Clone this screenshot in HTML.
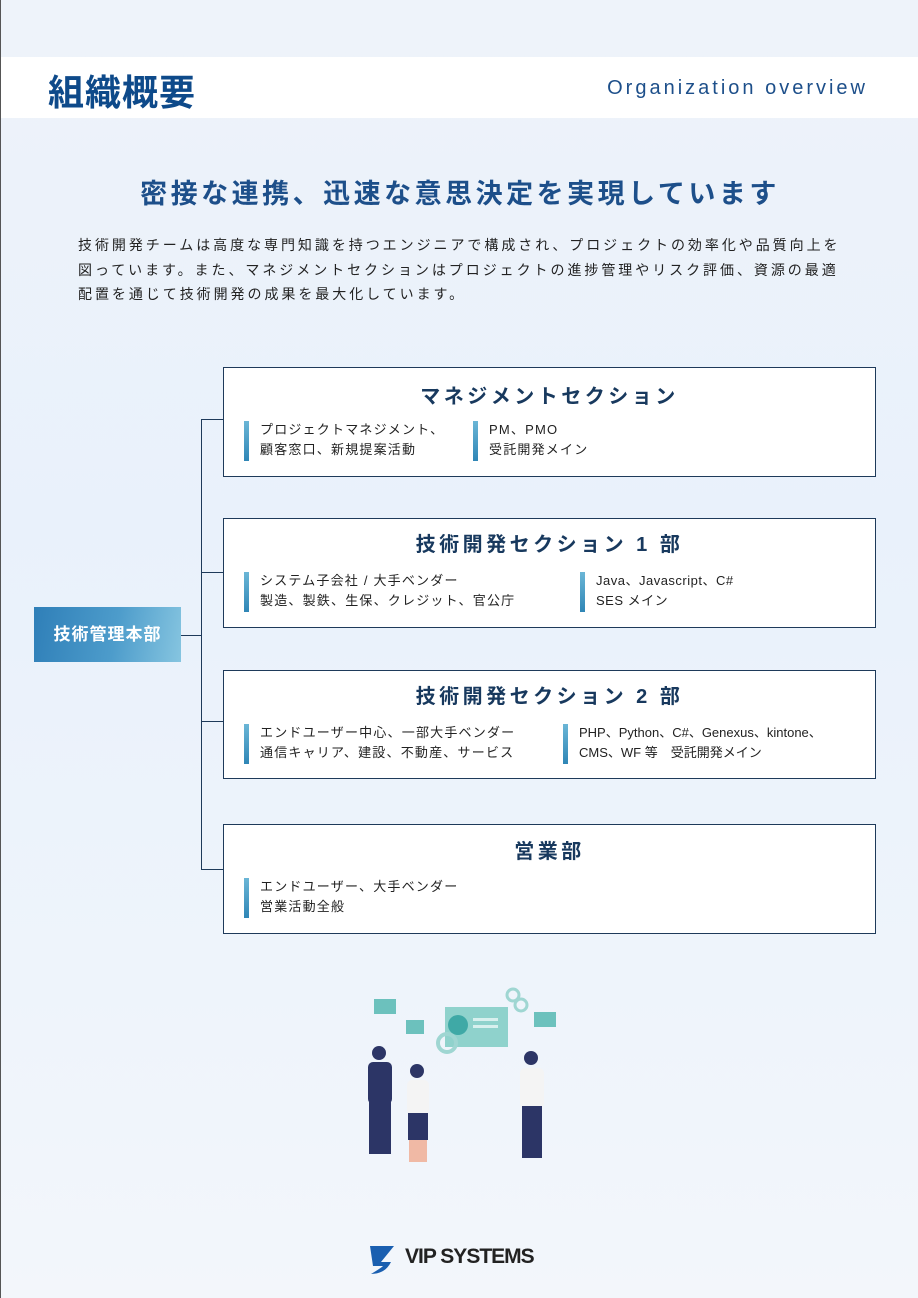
<!DOCTYPE html>
<html><head><meta charset="utf-8"><style>
*{margin:0;padding:0;box-sizing:border-box}
body{width:918px;height:1298px;position:relative;overflow:hidden;font-family:"Liberation Sans","Noto Sans CJK JP",sans-serif;background:linear-gradient(180deg,#eef3fa 0%,#e9f1fb 40%,#eef4fb 75%,#f3f6fb 100%);border-left:1px solid #555}
.a{position:absolute;white-space:nowrap}
.band{left:0;top:57px;width:918px;height:61px;background:#fff}
.box{position:absolute;left:222px;width:653px;background:#fff;border:1px solid #1e3a5a}
.t{position:absolute;left:0;width:100%;text-align:center;font-size:20px;font-weight:bold;color:#18395e;letter-spacing:3.5px}
.it{position:absolute;font-size:13px;line-height:20px;color:#222;padding-left:16px;letter-spacing:1.2px}
.it:before{content:"";position:absolute;left:0;top:1px;width:5px;height:40px;background:linear-gradient(180deg,#6bb6d6,#2f86b6)}
.h{background:#1e3a5a;position:absolute}
</style></head><body>
<div class="a band"></div>
<div class="a" style="left:47px;top:64px;font-size:36px;font-weight:bold;color:#0e4a8a;letter-spacing:1px">組織概要</div>
<div class="a" style="right:50px;top:77px;font-size:20px;color:#1d4f8a;letter-spacing:3px">Organization overview</div>
<div class="a" style="left:0;width:918px;text-align:center;top:172px;font-size:27px;font-weight:bold;color:#1d4f8a;letter-spacing:3.5px">密接な連携、迅速な意思決定を実現しています</div>
<div class="a" style="left:77px;top:233px;font-size:14px;line-height:24.5px;color:#222;letter-spacing:2.95px">技術開発チームは高度な専門知識を持つエンジニアで構成され、プロジェクトの効率化や品質向上を<br>図っています。また、マネジメントセクションはプロジェクトの進捗管理やリスク評価、資源の最適<br>配置を通じて技術開発の成果を最大化しています。</div>

<div class="h" style="left:200px;top:419px;width:1px;height:451px"></div>
<div class="h" style="left:200px;top:419px;width:22px;height:1px"></div>
<div class="h" style="left:200px;top:572px;width:22px;height:1px"></div>
<div class="h" style="left:200px;top:721px;width:22px;height:1px"></div>
<div class="h" style="left:200px;top:869px;width:22px;height:1px"></div>
<div class="h" style="left:180px;top:635px;width:20px;height:1px"></div>
<div class="a" style="left:33px;top:607px;width:147px;height:55px;background:linear-gradient(100deg,#2f7fb8 0%,#4d9ccb 55%,#86c5e0 100%);color:#fff;font-size:17px;font-weight:bold;text-align:center;line-height:55px;letter-spacing:1px">技術管理本部</div>

<div class="box" style="top:367px;height:110px">
<div class="t" style="top:12px">マネジメントセクション</div>
<div class="it" style="left:20px;top:52px">プロジェクトマネジメント、<br>顧客窓口、新規提案活動</div>
<div class="it" style="left:249px;top:52px">PM、PMO<br>受託開発メイン</div>
</div>
<div class="box" style="top:518px;height:110px">
<div class="t" style="top:9px">技術開発セクション 1 部</div>
<div class="it" style="left:20px;top:52px">システム子会社 / 大手ベンダー<br>製造、製鉄、生保、クレジット、官公庁</div>
<div class="it" style="left:356px;top:52px;letter-spacing:0.5px">Java、Javascript、C#<br>SES メイン</div>
</div>
<div class="box" style="top:670px;height:109px">
<div class="t" style="top:9px">技術開発セクション 2 部</div>
<div class="it" style="left:20px;top:52px">エンドユーザー中心、一部大手ベンダー<br>通信キャリア、建設、不動産、サービス</div>
<div class="it" style="left:339px;top:52px;letter-spacing:0">PHP、Python、C#、Genexus、kintone、<br>CMS、WF 等　受託開発メイン</div>
</div>
<div class="box" style="top:824px;height:110px">
<div class="t" style="top:10px">営業部</div>
<div class="it" style="left:20px;top:52px">エンドユーザー、大手ベンダー<br>営業活動全般</div>
</div>

<svg class="a" style="left:340px;top:980px" width="240" height="200" viewBox="0 0 240 200">
<rect x="33" y="19" width="22" height="15" fill="#6cc1bd"/><rect x="65" y="40" width="18" height="14" fill="#6cc1bd"/>
<rect x="193" y="32" width="22" height="15" fill="#6cc1bd"/>
<rect x="104" y="27" width="63" height="40" fill="#8fd2cc"/><circle cx="117" cy="45" r="10" fill="#3fa9a6"/>
<rect x="132" y="38" width="25" height="3" fill="#d8f0ee"/><rect x="132" y="45" width="25" height="3" fill="#d8f0ee"/>
<circle cx="106" cy="63" r="9" fill="none" stroke="#9fd6d2" stroke-width="4"/><circle cx="172" cy="15" r="6" fill="none" stroke="#9fd6d2" stroke-width="3"/><circle cx="180" cy="25" r="6" fill="none" stroke="#9fd6d2" stroke-width="3"/>
<circle cx="38" cy="73" r="7" fill="#2c3566"/><rect x="27" y="82" width="24" height="42" rx="5" fill="#2c3566"/><rect x="28" y="122" width="22" height="52" fill="#2c3566"/>
<circle cx="76" cy="91" r="7" fill="#2c3566"/><rect x="66" y="100" width="22" height="35" rx="5" fill="#f4f4f4"/><rect x="67" y="133" width="20" height="27" fill="#2c3566"/><rect x="68" y="160" width="18" height="22" fill="#f0b9a5"/>
<circle cx="190" cy="78" r="7" fill="#2c3566"/><rect x="179" y="88" width="24" height="40" rx="5" fill="#f4f4f4"/><rect x="181" y="126" width="20" height="52" fill="#2c3566"/>
</svg>
<svg class="a" style="left:366px;top:1242px" width="30" height="34" viewBox="0 0 30 34"><path d="M3 4 L27 4 L14 20 L24 20 Q18 32 4 32 Q14 26 16 24 L6 24 Z" fill="#1a5fb0"/></svg>
<div class="a" style="left:404px;top:1245px;font-size:21px;font-weight:bold;color:#222;letter-spacing:-1px">VIP SYSTEMS</div>
</body></html>
